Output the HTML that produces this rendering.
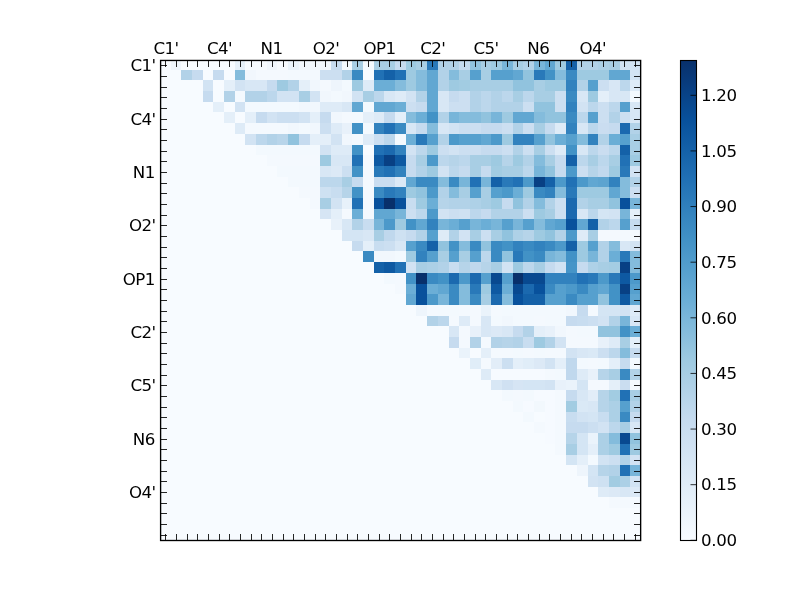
<!DOCTYPE html>
<html><head><meta charset="utf-8"><title>heatmap</title>
<style>
html,body{margin:0;padding:0;background:#fff;}
svg{display:block;}
text{font-family:"DejaVu Sans","Liberation Sans",sans-serif;font-size:16.67px;fill:#000;}
</style></head><body>
<svg width="800" height="600" viewBox="0 0 800 600">
<defs><linearGradient id="cb" x1="0" y1="1" x2="0" y2="0"><stop offset="0.0000" stop-color="rgb(247,251,255)"/><stop offset="0.0312" stop-color="rgb(241,247,253)"/><stop offset="0.0625" stop-color="rgb(234,243,251)"/><stop offset="0.0938" stop-color="rgb(228,239,249)"/><stop offset="0.1250" stop-color="rgb(222,235,247)"/><stop offset="0.1562" stop-color="rgb(216,231,245)"/><stop offset="0.1875" stop-color="rgb(210,227,243)"/><stop offset="0.2188" stop-color="rgb(204,223,241)"/><stop offset="0.2500" stop-color="rgb(198,219,239)"/><stop offset="0.2812" stop-color="rgb(188,215,236)"/><stop offset="0.3125" stop-color="rgb(178,210,232)"/><stop offset="0.3438" stop-color="rgb(168,206,228)"/><stop offset="0.3750" stop-color="rgb(158,202,225)"/><stop offset="0.4062" stop-color="rgb(145,195,222)"/><stop offset="0.4375" stop-color="rgb(132,188,220)"/><stop offset="0.4688" stop-color="rgb(120,181,217)"/><stop offset="0.5000" stop-color="rgb(107,174,214)"/><stop offset="0.5312" stop-color="rgb(97,167,210)"/><stop offset="0.5625" stop-color="rgb(86,160,206)"/><stop offset="0.5938" stop-color="rgb(76,153,202)"/><stop offset="0.6250" stop-color="rgb(66,146,198)"/><stop offset="0.6562" stop-color="rgb(58,138,194)"/><stop offset="0.6875" stop-color="rgb(50,130,190)"/><stop offset="0.7188" stop-color="rgb(41,121,185)"/><stop offset="0.7500" stop-color="rgb(33,113,181)"/><stop offset="0.7812" stop-color="rgb(27,105,175)"/><stop offset="0.8125" stop-color="rgb(20,97,168)"/><stop offset="0.8438" stop-color="rgb(14,89,162)"/><stop offset="0.8750" stop-color="rgb(8,81,156)"/><stop offset="0.9062" stop-color="rgb(8,73,144)"/><stop offset="0.9375" stop-color="rgb(8,64,132)"/><stop offset="0.9688" stop-color="rgb(8,56,119)"/><stop offset="1.0000" stop-color="rgb(8,48,107)"/></linearGradient></defs>
<rect x="0" y="0" width="800" height="600" fill="#fff"/>
<rect x="160" y="60" width="480" height="480" fill="rgb(247,251,255)"/>
<g shape-rendering="crispEdges">
<rect x="171" y="60" width="10" height="10" fill="#eef5fc"/><rect x="235" y="60" width="10" height="10" fill="#e6f0f9"/><rect x="267" y="60" width="10" height="10" fill="#f1f7fd"/><rect x="288" y="60" width="11" height="10" fill="#eaf3fb"/><rect x="299" y="60" width="32" height="10" fill="#f1f7fd"/><rect x="331" y="60" width="11" height="10" fill="#c6dbef"/><rect x="342" y="60" width="10" height="10" fill="#f3f9fe"/><rect x="352" y="60" width="11" height="10" fill="#a8cee4"/><rect x="363" y="60" width="11" height="10" fill="#f3f9fe"/><rect x="374" y="60" width="21" height="10" fill="#a8cee4"/><rect x="395" y="60" width="11" height="10" fill="#c6dbef"/><rect x="406" y="60" width="10" height="10" fill="#9ecae1"/><rect x="416" y="60" width="11" height="10" fill="#a8cee4"/><rect x="427" y="60" width="11" height="10" fill="#2979b9"/><rect x="438" y="60" width="21" height="10" fill="#b2d2e8"/><rect x="459" y="60" width="11" height="10" fill="#c6dbef"/><rect x="470" y="60" width="11" height="10" fill="#91c3de"/><rect x="481" y="60" width="10" height="10" fill="#a8cee4"/><rect x="491" y="60" width="11" height="10" fill="#9ecae1"/><rect x="502" y="60" width="11" height="10" fill="#78b5d9"/><rect x="513" y="60" width="10" height="10" fill="#a8cee4"/><rect x="523" y="60" width="11" height="10" fill="#b2d2e8"/><rect x="534" y="60" width="11" height="10" fill="#78b5d9"/><rect x="545" y="60" width="10" height="10" fill="#61a7d2"/><rect x="555" y="60" width="11" height="10" fill="#9ecae1"/><rect x="566" y="60" width="11" height="10" fill="#1461a8"/><rect x="577" y="60" width="21" height="10" fill="#b2d2e8"/><rect x="598" y="60" width="11" height="10" fill="#acd0e6"/><rect x="609" y="60" width="11" height="10" fill="#a8cee4"/><rect x="620" y="60" width="21" height="10" fill="#d2e3f3"/>
<rect x="181" y="70" width="11" height="10" fill="#b2d2e8"/><rect x="192" y="70" width="11" height="10" fill="#c6dbef"/><rect x="213" y="70" width="11" height="10" fill="#c6dbef"/><rect x="235" y="70" width="10" height="10" fill="#84bcdc"/><rect x="245" y="70" width="11" height="10" fill="#f1f7fd"/><rect x="256" y="70" width="32" height="10" fill="#f4f9fe"/><rect x="288" y="70" width="32" height="10" fill="#f3f9fe"/><rect x="320" y="70" width="22" height="10" fill="#ccdff1"/><rect x="342" y="70" width="10" height="10" fill="#b2d2e8"/><rect x="352" y="70" width="11" height="10" fill="#3a8ac2"/><rect x="374" y="70" width="10" height="10" fill="#2171b5"/><rect x="384" y="70" width="11" height="10" fill="#1461a8"/><rect x="395" y="70" width="11" height="10" fill="#2171b5"/><rect x="406" y="70" width="10" height="10" fill="#9ecae1"/><rect x="416" y="70" width="11" height="10" fill="#84bcdc"/><rect x="427" y="70" width="11" height="10" fill="#61a7d2"/><rect x="438" y="70" width="11" height="10" fill="#b2d2e8"/><rect x="449" y="70" width="10" height="10" fill="#84bcdc"/><rect x="459" y="70" width="11" height="10" fill="#a8cee4"/><rect x="470" y="70" width="11" height="10" fill="#56a0ce"/><rect x="481" y="70" width="10" height="10" fill="#a8cee4"/><rect x="491" y="70" width="22" height="10" fill="#56a0ce"/><rect x="513" y="70" width="10" height="10" fill="#61a7d2"/><rect x="523" y="70" width="11" height="10" fill="#91c3de"/><rect x="534" y="70" width="11" height="10" fill="#2979b9"/><rect x="545" y="70" width="10" height="10" fill="#4292c6"/><rect x="555" y="70" width="11" height="10" fill="#84bcdc"/><rect x="566" y="70" width="11" height="10" fill="#3a8ac2"/><rect x="577" y="70" width="32" height="10" fill="#9ecae1"/><rect x="609" y="70" width="21" height="10" fill="#61a7d2"/><rect x="630" y="70" width="11" height="10" fill="#d2e3f3"/>
<rect x="203" y="80" width="10" height="11" fill="#d2e3f3"/><rect x="224" y="80" width="11" height="11" fill="#e4eff9"/><rect x="235" y="80" width="10" height="11" fill="#d2e3f3"/><rect x="245" y="80" width="22" height="11" fill="#d8e7f5"/><rect x="267" y="80" width="10" height="11" fill="#c6dbef"/><rect x="277" y="80" width="11" height="11" fill="#9ecae1"/><rect x="288" y="80" width="11" height="11" fill="#b2d2e8"/><rect x="299" y="80" width="11" height="11" fill="#e4eff9"/><rect x="310" y="80" width="10" height="11" fill="#f1f7fd"/><rect x="320" y="80" width="11" height="11" fill="#f4f9fe"/><rect x="331" y="80" width="11" height="11" fill="#eef5fc"/><rect x="342" y="80" width="10" height="11" fill="#f3f9fe"/><rect x="352" y="80" width="11" height="11" fill="#9ecae1"/><rect x="363" y="80" width="11" height="11" fill="#deebf7"/><rect x="374" y="80" width="21" height="11" fill="#6baed6"/><rect x="395" y="80" width="11" height="11" fill="#84bcdc"/><rect x="406" y="80" width="10" height="11" fill="#9ecae1"/><rect x="416" y="80" width="11" height="11" fill="#84bcdc"/><rect x="427" y="80" width="11" height="11" fill="#61a7d2"/><rect x="438" y="80" width="11" height="11" fill="#b2d2e8"/><rect x="449" y="80" width="10" height="11" fill="#9ecae1"/><rect x="459" y="80" width="11" height="11" fill="#a2cce2"/><rect x="470" y="80" width="43" height="11" fill="#a8cee4"/><rect x="513" y="80" width="21" height="11" fill="#91c3de"/><rect x="534" y="80" width="11" height="11" fill="#a8cee4"/><rect x="545" y="80" width="21" height="11" fill="#9ecae1"/><rect x="566" y="80" width="11" height="11" fill="#3282be"/><rect x="577" y="80" width="11" height="11" fill="#b2d2e8"/><rect x="588" y="80" width="10" height="11" fill="#56a0ce"/><rect x="598" y="80" width="11" height="11" fill="#ccdff1"/><rect x="609" y="80" width="11" height="11" fill="#d8e7f5"/><rect x="620" y="80" width="10" height="11" fill="#bcd7ec"/><rect x="630" y="80" width="11" height="11" fill="#deebf7"/>
<rect x="203" y="91" width="10" height="11" fill="#c6dbef"/><rect x="224" y="91" width="11" height="11" fill="#b2d2e8"/><rect x="235" y="91" width="10" height="11" fill="#f4f9fe"/><rect x="245" y="91" width="22" height="11" fill="#b2d2e8"/><rect x="267" y="91" width="10" height="11" fill="#bcd7ec"/><rect x="277" y="91" width="22" height="11" fill="#d2e3f3"/><rect x="299" y="91" width="11" height="11" fill="#a8cee4"/><rect x="310" y="91" width="10" height="11" fill="#d2e3f3"/><rect x="320" y="91" width="11" height="11" fill="#f1f7fd"/><rect x="331" y="91" width="11" height="11" fill="#f3f9fe"/><rect x="342" y="91" width="10" height="11" fill="#f1f7fd"/><rect x="352" y="91" width="11" height="11" fill="#d2e3f3"/><rect x="363" y="91" width="11" height="11" fill="#a8cee4"/><rect x="374" y="91" width="10" height="11" fill="#bcd7ec"/><rect x="384" y="91" width="11" height="11" fill="#d8e7f5"/><rect x="395" y="91" width="11" height="11" fill="#deebf7"/><rect x="406" y="91" width="10" height="11" fill="#d2e3f3"/><rect x="416" y="91" width="11" height="11" fill="#b2d2e8"/><rect x="427" y="91" width="11" height="11" fill="#61a7d2"/><rect x="438" y="91" width="11" height="11" fill="#d8e7f5"/><rect x="449" y="91" width="10" height="11" fill="#c6dbef"/><rect x="459" y="91" width="11" height="11" fill="#ccdff1"/><rect x="470" y="91" width="11" height="11" fill="#b2d2e8"/><rect x="481" y="91" width="10" height="11" fill="#bcd7ec"/><rect x="491" y="91" width="11" height="11" fill="#b2d2e8"/><rect x="502" y="91" width="11" height="11" fill="#bcd7ec"/><rect x="513" y="91" width="10" height="11" fill="#a8cee4"/><rect x="523" y="91" width="11" height="11" fill="#bcd7ec"/><rect x="534" y="91" width="21" height="11" fill="#a8cee4"/><rect x="555" y="91" width="11" height="11" fill="#ccdff1"/><rect x="566" y="91" width="11" height="11" fill="#3a8ac2"/><rect x="577" y="91" width="11" height="11" fill="#d8e7f5"/><rect x="588" y="91" width="10" height="11" fill="#9ecae1"/><rect x="598" y="91" width="11" height="11" fill="#e4eff9"/><rect x="609" y="91" width="21" height="11" fill="#d8e7f5"/><rect x="630" y="91" width="11" height="11" fill="#f3f9fe"/>
<rect x="213" y="102" width="11" height="10" fill="#e4eff9"/><rect x="235" y="102" width="10" height="10" fill="#d2e3f3"/><rect x="245" y="102" width="54" height="10" fill="#f3f9fe"/><rect x="299" y="102" width="21" height="10" fill="#f1f7fd"/><rect x="320" y="102" width="22" height="10" fill="#deebf7"/><rect x="342" y="102" width="10" height="10" fill="#d8e7f5"/><rect x="352" y="102" width="11" height="10" fill="#61a7d2"/><rect x="363" y="102" width="11" height="10" fill="#f3f9fe"/><rect x="374" y="102" width="21" height="10" fill="#61a7d2"/><rect x="395" y="102" width="11" height="10" fill="#6baed6"/><rect x="406" y="102" width="10" height="10" fill="#ccdff1"/><rect x="416" y="102" width="11" height="10" fill="#c6dbef"/><rect x="427" y="102" width="11" height="10" fill="#61a7d2"/><rect x="438" y="102" width="11" height="10" fill="#d8e7f5"/><rect x="449" y="102" width="21" height="10" fill="#ccdff1"/><rect x="470" y="102" width="11" height="10" fill="#b2d2e8"/><rect x="481" y="102" width="10" height="10" fill="#bcd7ec"/><rect x="491" y="102" width="32" height="10" fill="#b2d2e8"/><rect x="523" y="102" width="11" height="10" fill="#ccdff1"/><rect x="534" y="102" width="21" height="10" fill="#91c3de"/><rect x="555" y="102" width="11" height="10" fill="#ccdff1"/><rect x="566" y="102" width="11" height="10" fill="#3282be"/><rect x="577" y="102" width="11" height="10" fill="#d2e3f3"/><rect x="588" y="102" width="10" height="10" fill="#bcd7ec"/><rect x="598" y="102" width="11" height="10" fill="#ccdff1"/><rect x="609" y="102" width="11" height="10" fill="#bcd7ec"/><rect x="620" y="102" width="10" height="10" fill="#56a0ce"/><rect x="630" y="102" width="11" height="10" fill="#d8e7f5"/>
<rect x="224" y="112" width="11" height="11" fill="#e4eff9"/><rect x="245" y="112" width="11" height="11" fill="#e4eff9"/><rect x="256" y="112" width="11" height="11" fill="#c6dbef"/><rect x="267" y="112" width="10" height="11" fill="#d2e3f3"/><rect x="277" y="112" width="22" height="11" fill="#ccdff1"/><rect x="299" y="112" width="11" height="11" fill="#d2e3f3"/><rect x="310" y="112" width="10" height="11" fill="#e4eff9"/><rect x="320" y="112" width="11" height="11" fill="#c6dbef"/><rect x="331" y="112" width="11" height="11" fill="#f1f7fd"/><rect x="342" y="112" width="10" height="11" fill="#f4f9fe"/><rect x="352" y="112" width="11" height="11" fill="#f3f9fe"/><rect x="363" y="112" width="11" height="11" fill="#e4eff9"/><rect x="374" y="112" width="10" height="11" fill="#deebf7"/><rect x="384" y="112" width="11" height="11" fill="#c6dbef"/><rect x="395" y="112" width="11" height="11" fill="#e4eff9"/><rect x="406" y="112" width="10" height="11" fill="#84bcdc"/><rect x="416" y="112" width="11" height="11" fill="#6baed6"/><rect x="427" y="112" width="11" height="11" fill="#4292c6"/><rect x="438" y="112" width="11" height="11" fill="#b2d2e8"/><rect x="449" y="112" width="10" height="11" fill="#78b5d9"/><rect x="459" y="112" width="22" height="11" fill="#84bcdc"/><rect x="481" y="112" width="10" height="11" fill="#91c3de"/><rect x="491" y="112" width="11" height="11" fill="#78b5d9"/><rect x="502" y="112" width="11" height="11" fill="#9ecae1"/><rect x="513" y="112" width="21" height="11" fill="#61a7d2"/><rect x="534" y="112" width="11" height="11" fill="#84bcdc"/><rect x="545" y="112" width="21" height="11" fill="#91c3de"/><rect x="566" y="112" width="11" height="11" fill="#3a8ac2"/><rect x="577" y="112" width="11" height="11" fill="#bcd7ec"/><rect x="588" y="112" width="10" height="11" fill="#56a0ce"/><rect x="598" y="112" width="11" height="11" fill="#ccdff1"/><rect x="609" y="112" width="11" height="11" fill="#b2d2e8"/><rect x="620" y="112" width="10" height="11" fill="#ccdff1"/><rect x="630" y="112" width="11" height="11" fill="#d8e7f5"/>
<rect x="235" y="123" width="10" height="11" fill="#deebf7"/><rect x="245" y="123" width="43" height="11" fill="#f4f9fe"/><rect x="288" y="123" width="11" height="11" fill="#f1f7fd"/><rect x="299" y="123" width="11" height="11" fill="#f3f9fe"/><rect x="310" y="123" width="10" height="11" fill="#f1f7fd"/><rect x="320" y="123" width="11" height="11" fill="#ccdff1"/><rect x="331" y="123" width="11" height="11" fill="#deebf7"/><rect x="342" y="123" width="10" height="11" fill="#e8f1fa"/><rect x="352" y="123" width="11" height="11" fill="#4292c6"/><rect x="363" y="123" width="11" height="11" fill="#f3f9fe"/><rect x="374" y="123" width="10" height="11" fill="#3282be"/><rect x="384" y="123" width="11" height="11" fill="#2171b5"/><rect x="395" y="123" width="11" height="11" fill="#3a8ac2"/><rect x="406" y="123" width="10" height="11" fill="#d8e7f5"/><rect x="416" y="123" width="11" height="11" fill="#c6dbef"/><rect x="427" y="123" width="11" height="11" fill="#84bcdc"/><rect x="438" y="123" width="11" height="11" fill="#d8e7f5"/><rect x="449" y="123" width="10" height="11" fill="#d2e3f3"/><rect x="459" y="123" width="22" height="11" fill="#ccdff1"/><rect x="481" y="123" width="21" height="11" fill="#c6dbef"/><rect x="502" y="123" width="11" height="11" fill="#ccdff1"/><rect x="513" y="123" width="10" height="11" fill="#b2d2e8"/><rect x="523" y="123" width="11" height="11" fill="#ccdff1"/><rect x="534" y="123" width="11" height="11" fill="#a8cee4"/><rect x="545" y="123" width="10" height="11" fill="#c6dbef"/><rect x="555" y="123" width="11" height="11" fill="#deebf7"/><rect x="566" y="123" width="11" height="11" fill="#3282be"/><rect x="577" y="123" width="11" height="11" fill="#d8e7f5"/><rect x="588" y="123" width="10" height="11" fill="#bcd7ec"/><rect x="598" y="123" width="11" height="11" fill="#caddf0"/><rect x="609" y="123" width="11" height="11" fill="#c6dbef"/><rect x="620" y="123" width="10" height="11" fill="#1b69af"/><rect x="630" y="123" width="11" height="11" fill="#b2d2e8"/>
<rect x="245" y="134" width="11" height="11" fill="#d2e3f3"/><rect x="256" y="134" width="11" height="11" fill="#bcd7ec"/><rect x="267" y="134" width="10" height="11" fill="#b2d2e8"/><rect x="277" y="134" width="11" height="11" fill="#b8d5ea"/><rect x="288" y="134" width="11" height="11" fill="#91c3de"/><rect x="299" y="134" width="11" height="11" fill="#c6dbef"/><rect x="310" y="134" width="21" height="11" fill="#e4eff9"/><rect x="331" y="134" width="11" height="11" fill="#d2e3f3"/><rect x="342" y="134" width="10" height="11" fill="#f1f7fd"/><rect x="352" y="134" width="11" height="11" fill="#f3f9fe"/><rect x="363" y="134" width="11" height="11" fill="#deebf7"/><rect x="374" y="134" width="10" height="11" fill="#ccdff1"/><rect x="384" y="134" width="11" height="11" fill="#bcd7ec"/><rect x="395" y="134" width="11" height="11" fill="#f3f9fe"/><rect x="406" y="134" width="10" height="11" fill="#6baed6"/><rect x="416" y="134" width="11" height="11" fill="#2979b9"/><rect x="427" y="134" width="11" height="11" fill="#56a0ce"/><rect x="438" y="134" width="11" height="11" fill="#b2d2e8"/><rect x="449" y="134" width="10" height="11" fill="#4c99ca"/><rect x="459" y="134" width="22" height="11" fill="#56a0ce"/><rect x="481" y="134" width="10" height="11" fill="#61a7d2"/><rect x="491" y="134" width="11" height="11" fill="#4c99ca"/><rect x="502" y="134" width="11" height="11" fill="#9ecae1"/><rect x="513" y="134" width="21" height="11" fill="#3282be"/><rect x="534" y="134" width="11" height="11" fill="#56a0ce"/><rect x="545" y="134" width="10" height="11" fill="#91c3de"/><rect x="555" y="134" width="11" height="11" fill="#6baed6"/><rect x="566" y="134" width="11" height="11" fill="#56a0ce"/><rect x="577" y="134" width="11" height="11" fill="#84bcdc"/><rect x="588" y="134" width="10" height="11" fill="#3282be"/><rect x="598" y="134" width="11" height="11" fill="#b2d2e8"/><rect x="609" y="134" width="11" height="11" fill="#6baed6"/><rect x="620" y="134" width="10" height="11" fill="#56a0ce"/><rect x="630" y="134" width="11" height="11" fill="#a8cee4"/>
<rect x="256" y="145" width="64" height="10" fill="#f3f9fe"/><rect x="320" y="145" width="11" height="10" fill="#d2e3f3"/><rect x="331" y="145" width="21" height="10" fill="#deebf7"/><rect x="352" y="145" width="11" height="10" fill="#4292c6"/><rect x="374" y="145" width="10" height="10" fill="#2171b5"/><rect x="384" y="145" width="11" height="10" fill="#1b69af"/><rect x="395" y="145" width="11" height="10" fill="#3282be"/><rect x="406" y="145" width="10" height="10" fill="#d2e3f3"/><rect x="416" y="145" width="11" height="10" fill="#bcd7ec"/><rect x="427" y="145" width="11" height="10" fill="#9ecae1"/><rect x="438" y="145" width="11" height="10" fill="#ccdff1"/><rect x="449" y="145" width="10" height="10" fill="#d2e3f3"/><rect x="459" y="145" width="22" height="10" fill="#ccdff1"/><rect x="481" y="145" width="21" height="10" fill="#c6dbef"/><rect x="502" y="145" width="11" height="10" fill="#ccdff1"/><rect x="513" y="145" width="10" height="10" fill="#b2d2e8"/><rect x="523" y="145" width="11" height="10" fill="#ccdff1"/><rect x="534" y="145" width="11" height="10" fill="#a8cee4"/><rect x="545" y="145" width="10" height="10" fill="#ccdff1"/><rect x="555" y="145" width="11" height="10" fill="#deebf7"/><rect x="566" y="145" width="11" height="10" fill="#4292c6"/><rect x="577" y="145" width="11" height="10" fill="#d8e7f5"/><rect x="588" y="145" width="10" height="10" fill="#bcd7ec"/><rect x="598" y="145" width="11" height="10" fill="#caddf0"/><rect x="609" y="145" width="11" height="10" fill="#bcd7ec"/><rect x="620" y="145" width="10" height="10" fill="#1461a8"/><rect x="630" y="145" width="11" height="10" fill="#a8cee4"/>
<rect x="267" y="155" width="53" height="11" fill="#f4f9fe"/><rect x="320" y="155" width="11" height="11" fill="#9ecae1"/><rect x="331" y="155" width="21" height="11" fill="#d8e7f5"/><rect x="352" y="155" width="11" height="11" fill="#2171b5"/><rect x="363" y="155" width="11" height="11" fill="#f4f9fe"/><rect x="374" y="155" width="10" height="11" fill="#0e59a2"/><rect x="384" y="155" width="11" height="11" fill="#084084"/><rect x="395" y="155" width="11" height="11" fill="#0e59a2"/><rect x="406" y="155" width="10" height="11" fill="#c6dbef"/><rect x="416" y="155" width="11" height="11" fill="#a8cee4"/><rect x="427" y="155" width="11" height="11" fill="#4c99ca"/><rect x="438" y="155" width="11" height="11" fill="#bcd7ec"/><rect x="449" y="155" width="10" height="11" fill="#b6d4e9"/><rect x="459" y="155" width="11" height="11" fill="#bcd7ec"/><rect x="470" y="155" width="21" height="11" fill="#a8cee4"/><rect x="491" y="155" width="11" height="11" fill="#9ecae1"/><rect x="502" y="155" width="11" height="11" fill="#b6d4e9"/><rect x="513" y="155" width="10" height="11" fill="#9ecae1"/><rect x="523" y="155" width="11" height="11" fill="#b2d2e8"/><rect x="534" y="155" width="11" height="11" fill="#84bcdc"/><rect x="545" y="155" width="10" height="11" fill="#a8cee4"/><rect x="555" y="155" width="11" height="11" fill="#c6dbef"/><rect x="566" y="155" width="11" height="11" fill="#1461a8"/><rect x="577" y="155" width="11" height="11" fill="#bcd7ec"/><rect x="588" y="155" width="10" height="11" fill="#a8cee4"/><rect x="598" y="155" width="11" height="11" fill="#bcd7ec"/><rect x="609" y="155" width="11" height="11" fill="#a8cee4"/><rect x="620" y="155" width="10" height="11" fill="#2171b5"/><rect x="630" y="155" width="11" height="11" fill="#9ecae1"/>
<rect x="277" y="166" width="43" height="11" fill="#f3f9fe"/><rect x="320" y="166" width="11" height="11" fill="#d8e7f5"/><rect x="331" y="166" width="11" height="11" fill="#dce9f6"/><rect x="342" y="166" width="10" height="11" fill="#ccdff1"/><rect x="352" y="166" width="11" height="11" fill="#4292c6"/><rect x="363" y="166" width="11" height="11" fill="#f4f9fe"/><rect x="374" y="166" width="10" height="11" fill="#2979b9"/><rect x="384" y="166" width="11" height="11" fill="#2171b5"/><rect x="395" y="166" width="11" height="11" fill="#3282be"/><rect x="406" y="166" width="10" height="11" fill="#c6dbef"/><rect x="416" y="166" width="11" height="11" fill="#b2d2e8"/><rect x="427" y="166" width="11" height="11" fill="#9ecae1"/><rect x="438" y="166" width="11" height="11" fill="#d2e3f3"/><rect x="449" y="166" width="10" height="11" fill="#bcd7ec"/><rect x="459" y="166" width="11" height="11" fill="#c6dbef"/><rect x="470" y="166" width="11" height="11" fill="#a8cee4"/><rect x="481" y="166" width="10" height="11" fill="#c6dbef"/><rect x="491" y="166" width="11" height="11" fill="#a2cce2"/><rect x="502" y="166" width="21" height="11" fill="#a8cee4"/><rect x="523" y="166" width="11" height="11" fill="#bcd7ec"/><rect x="534" y="166" width="11" height="11" fill="#78b5d9"/><rect x="545" y="166" width="10" height="11" fill="#91c3de"/><rect x="555" y="166" width="11" height="11" fill="#c6dbef"/><rect x="566" y="166" width="11" height="11" fill="#4c99ca"/><rect x="577" y="166" width="11" height="11" fill="#ccdff1"/><rect x="588" y="166" width="10" height="11" fill="#b6d4e9"/><rect x="598" y="166" width="11" height="11" fill="#c2d9ee"/><rect x="609" y="166" width="11" height="11" fill="#9ecae1"/><rect x="620" y="166" width="10" height="11" fill="#2979b9"/><rect x="630" y="166" width="11" height="11" fill="#d2e3f3"/>
<rect x="288" y="177" width="32" height="10" fill="#f3f9fe"/><rect x="320" y="177" width="22" height="10" fill="#bcd7ec"/><rect x="342" y="177" width="10" height="10" fill="#a8cee4"/><rect x="352" y="177" width="11" height="10" fill="#c6dbef"/><rect x="363" y="177" width="11" height="10" fill="#f4f9fe"/><rect x="374" y="177" width="21" height="10" fill="#caddf0"/><rect x="395" y="177" width="11" height="10" fill="#dce9f6"/><rect x="406" y="177" width="10" height="10" fill="#61a7d2"/><rect x="416" y="177" width="22" height="10" fill="#3a8ac2"/><rect x="438" y="177" width="11" height="10" fill="#84bcdc"/><rect x="449" y="177" width="10" height="10" fill="#3a8ac2"/><rect x="459" y="177" width="11" height="10" fill="#78b5d9"/><rect x="470" y="177" width="11" height="10" fill="#2171b5"/><rect x="481" y="177" width="10" height="10" fill="#78b5d9"/><rect x="491" y="177" width="11" height="10" fill="#1461a8"/><rect x="502" y="177" width="11" height="10" fill="#2979b9"/><rect x="513" y="177" width="10" height="10" fill="#2171b5"/><rect x="523" y="177" width="11" height="10" fill="#4c99ca"/><rect x="534" y="177" width="11" height="10" fill="#084084"/><rect x="545" y="177" width="10" height="10" fill="#1461a8"/><rect x="555" y="177" width="11" height="10" fill="#4c99ca"/><rect x="566" y="177" width="11" height="10" fill="#2171b5"/><rect x="577" y="177" width="11" height="10" fill="#4c99ca"/><rect x="588" y="177" width="10" height="10" fill="#61a7d2"/><rect x="598" y="177" width="11" height="10" fill="#5da4d0"/><rect x="609" y="177" width="11" height="10" fill="#3282be"/><rect x="620" y="177" width="10" height="10" fill="#84bcdc"/><rect x="630" y="177" width="11" height="10" fill="#b2d2e8"/>
<rect x="299" y="187" width="21" height="11" fill="#f4f9fe"/><rect x="320" y="187" width="11" height="11" fill="#cee1f2"/><rect x="331" y="187" width="11" height="11" fill="#c8ddf0"/><rect x="342" y="187" width="10" height="11" fill="#b6d4e9"/><rect x="352" y="187" width="11" height="11" fill="#4292c6"/><rect x="363" y="187" width="11" height="11" fill="#f4f9fe"/><rect x="374" y="187" width="10" height="11" fill="#3a8ac2"/><rect x="384" y="187" width="11" height="11" fill="#2979b9"/><rect x="395" y="187" width="11" height="11" fill="#3282be"/><rect x="406" y="187" width="10" height="11" fill="#9ecae1"/><rect x="416" y="187" width="11" height="11" fill="#91c3de"/><rect x="427" y="187" width="11" height="11" fill="#4c99ca"/><rect x="438" y="187" width="11" height="11" fill="#b2d2e8"/><rect x="449" y="187" width="10" height="11" fill="#84bcdc"/><rect x="459" y="187" width="11" height="11" fill="#a8cee4"/><rect x="470" y="187" width="11" height="11" fill="#56a0ce"/><rect x="481" y="187" width="10" height="11" fill="#a8cee4"/><rect x="491" y="187" width="11" height="11" fill="#56a0ce"/><rect x="502" y="187" width="11" height="11" fill="#4c99ca"/><rect x="513" y="187" width="10" height="11" fill="#6baed6"/><rect x="523" y="187" width="11" height="11" fill="#9ecae1"/><rect x="534" y="187" width="11" height="11" fill="#3a8ac2"/><rect x="545" y="187" width="10" height="11" fill="#3282be"/><rect x="555" y="187" width="11" height="11" fill="#84bcdc"/><rect x="566" y="187" width="11" height="11" fill="#2979b9"/><rect x="577" y="187" width="32" height="11" fill="#9ecae1"/><rect x="609" y="187" width="11" height="11" fill="#61a7d2"/><rect x="620" y="187" width="10" height="11" fill="#84bcdc"/><rect x="630" y="187" width="11" height="11" fill="#ccdff1"/>
<rect x="310" y="198" width="10" height="11" fill="#f4f9fe"/><rect x="320" y="198" width="11" height="11" fill="#a8cee4"/><rect x="331" y="198" width="11" height="11" fill="#d2e3f3"/><rect x="342" y="198" width="10" height="11" fill="#e7f1fa"/><rect x="352" y="198" width="11" height="11" fill="#2171b5"/><rect x="363" y="198" width="11" height="11" fill="#f4f9fe"/><rect x="374" y="198" width="10" height="11" fill="#08519c"/><rect x="384" y="198" width="11" height="11" fill="#08306b"/><rect x="395" y="198" width="11" height="11" fill="#08519c"/><rect x="406" y="198" width="10" height="11" fill="#c8ddf0"/><rect x="416" y="198" width="11" height="11" fill="#9ecae1"/><rect x="427" y="198" width="11" height="11" fill="#6baed6"/><rect x="438" y="198" width="11" height="11" fill="#b6d4e9"/><rect x="449" y="198" width="21" height="11" fill="#b2d2e8"/><rect x="470" y="198" width="11" height="11" fill="#aed1e7"/><rect x="481" y="198" width="10" height="11" fill="#a8cee4"/><rect x="491" y="198" width="11" height="11" fill="#9ecae1"/><rect x="502" y="198" width="11" height="11" fill="#c6dbef"/><rect x="513" y="198" width="10" height="11" fill="#91c3de"/><rect x="523" y="198" width="11" height="11" fill="#b2d2e8"/><rect x="534" y="198" width="11" height="11" fill="#84bcdc"/><rect x="545" y="198" width="10" height="11" fill="#b2d2e8"/><rect x="555" y="198" width="11" height="11" fill="#ccdff1"/><rect x="566" y="198" width="11" height="11" fill="#1b69af"/><rect x="577" y="198" width="11" height="11" fill="#b2d2e8"/><rect x="588" y="198" width="21" height="11" fill="#a8cee4"/><rect x="609" y="198" width="11" height="11" fill="#91c3de"/><rect x="620" y="198" width="10" height="11" fill="#08519c"/><rect x="630" y="198" width="11" height="11" fill="#78b5d9"/>
<rect x="320" y="209" width="11" height="10" fill="#d6e5f4"/><rect x="331" y="209" width="11" height="10" fill="#e4eff9"/><rect x="342" y="209" width="10" height="10" fill="#f4f9fe"/><rect x="352" y="209" width="11" height="10" fill="#6baed6"/><rect x="363" y="209" width="11" height="10" fill="#f4f9fe"/><rect x="374" y="209" width="21" height="10" fill="#61a7d2"/><rect x="395" y="209" width="11" height="10" fill="#78b5d9"/><rect x="406" y="209" width="10" height="10" fill="#ccdff1"/><rect x="416" y="209" width="11" height="10" fill="#bcd7ec"/><rect x="427" y="209" width="11" height="10" fill="#4c99ca"/><rect x="438" y="209" width="11" height="10" fill="#d2e3f3"/><rect x="449" y="209" width="10" height="10" fill="#ccdff1"/><rect x="459" y="209" width="11" height="10" fill="#cee1f2"/><rect x="470" y="209" width="11" height="10" fill="#bcd7ec"/><rect x="481" y="209" width="10" height="10" fill="#c6dbef"/><rect x="491" y="209" width="32" height="10" fill="#b2d2e8"/><rect x="523" y="209" width="11" height="10" fill="#ccdff1"/><rect x="534" y="209" width="11" height="10" fill="#9ecae1"/><rect x="545" y="209" width="10" height="10" fill="#a8cee4"/><rect x="555" y="209" width="11" height="10" fill="#ccdff1"/><rect x="566" y="209" width="11" height="10" fill="#1b69af"/><rect x="577" y="209" width="11" height="10" fill="#d8e7f5"/><rect x="588" y="209" width="10" height="10" fill="#bcd7ec"/><rect x="598" y="209" width="11" height="10" fill="#d4e5f4"/><rect x="609" y="209" width="11" height="10" fill="#d2e3f3"/><rect x="620" y="209" width="10" height="10" fill="#78b5d9"/><rect x="630" y="209" width="11" height="10" fill="#e4eff9"/>
<rect x="331" y="219" width="11" height="11" fill="#e8f1fa"/><rect x="342" y="219" width="10" height="11" fill="#d8e7f5"/><rect x="352" y="219" width="11" height="11" fill="#b2d2e8"/><rect x="363" y="219" width="11" height="11" fill="#c8ddf0"/><rect x="374" y="219" width="10" height="11" fill="#78b5d9"/><rect x="384" y="219" width="11" height="11" fill="#4c99ca"/><rect x="395" y="219" width="11" height="11" fill="#9ecae1"/><rect x="406" y="219" width="10" height="11" fill="#4292c6"/><rect x="416" y="219" width="11" height="11" fill="#61a7d2"/><rect x="427" y="219" width="11" height="11" fill="#3282be"/><rect x="438" y="219" width="11" height="11" fill="#78b5d9"/><rect x="449" y="219" width="10" height="11" fill="#6baed6"/><rect x="459" y="219" width="11" height="11" fill="#56a0ce"/><rect x="470" y="219" width="11" height="11" fill="#78b5d9"/><rect x="481" y="219" width="10" height="11" fill="#6baed6"/><rect x="491" y="219" width="11" height="11" fill="#78b5d9"/><rect x="502" y="219" width="11" height="11" fill="#56a0ce"/><rect x="513" y="219" width="10" height="11" fill="#78b5d9"/><rect x="523" y="219" width="11" height="11" fill="#56a0ce"/><rect x="534" y="219" width="11" height="11" fill="#84bcdc"/><rect x="545" y="219" width="10" height="11" fill="#61a7d2"/><rect x="555" y="219" width="11" height="11" fill="#56a0ce"/><rect x="566" y="219" width="11" height="11" fill="#08519c"/><rect x="577" y="219" width="11" height="11" fill="#61a7d2"/><rect x="588" y="219" width="10" height="11" fill="#1461a8"/><rect x="598" y="219" width="11" height="11" fill="#b2d2e8"/><rect x="609" y="219" width="11" height="11" fill="#bcd7ec"/><rect x="620" y="219" width="10" height="11" fill="#56a0ce"/><rect x="630" y="219" width="11" height="11" fill="#c6dbef"/>
<rect x="342" y="230" width="21" height="11" fill="#d4e5f4"/><rect x="363" y="230" width="11" height="11" fill="#d8e7f5"/><rect x="374" y="230" width="10" height="11" fill="#a8cee4"/><rect x="384" y="230" width="11" height="11" fill="#c0d8ed"/><rect x="395" y="230" width="11" height="11" fill="#cee1f2"/><rect x="406" y="230" width="10" height="11" fill="#c6dbef"/><rect x="416" y="230" width="11" height="11" fill="#b2d2e8"/><rect x="427" y="230" width="11" height="11" fill="#56a0ce"/><rect x="438" y="230" width="11" height="11" fill="#deebf7"/><rect x="449" y="230" width="10" height="11" fill="#b2d2e8"/><rect x="459" y="230" width="11" height="11" fill="#d2e3f3"/><rect x="470" y="230" width="11" height="11" fill="#a8cee4"/><rect x="481" y="230" width="10" height="11" fill="#ccdff1"/><rect x="491" y="230" width="11" height="11" fill="#a8cee4"/><rect x="502" y="230" width="11" height="11" fill="#91c3de"/><rect x="513" y="230" width="10" height="11" fill="#aed1e7"/><rect x="523" y="230" width="11" height="11" fill="#b6d4e9"/><rect x="534" y="230" width="11" height="11" fill="#9ecae1"/><rect x="545" y="230" width="10" height="11" fill="#91c3de"/><rect x="555" y="230" width="11" height="11" fill="#b2d2e8"/><rect x="566" y="230" width="11" height="11" fill="#4c99ca"/><rect x="577" y="230" width="11" height="11" fill="#deebf7"/><rect x="588" y="230" width="10" height="11" fill="#a8cee4"/><rect x="598" y="230" width="22" height="11" fill="#f4f9fe"/><rect x="620" y="230" width="21" height="11" fill="#f3f9fe"/>
<rect x="352" y="241" width="11" height="10" fill="#c6dbef"/><rect x="363" y="241" width="11" height="10" fill="#e4eff9"/><rect x="374" y="241" width="10" height="10" fill="#c8ddf0"/><rect x="384" y="241" width="11" height="10" fill="#ccdff1"/><rect x="395" y="241" width="11" height="10" fill="#d8e7f5"/><rect x="406" y="241" width="10" height="10" fill="#56a0ce"/><rect x="416" y="241" width="11" height="10" fill="#3a8ac2"/><rect x="427" y="241" width="11" height="10" fill="#1461a8"/><rect x="438" y="241" width="11" height="10" fill="#91c3de"/><rect x="449" y="241" width="10" height="10" fill="#4292c6"/><rect x="459" y="241" width="11" height="10" fill="#84bcdc"/><rect x="470" y="241" width="11" height="10" fill="#3a8ac2"/><rect x="481" y="241" width="10" height="10" fill="#91c3de"/><rect x="491" y="241" width="11" height="10" fill="#3a8ac2"/><rect x="502" y="241" width="11" height="10" fill="#4292c6"/><rect x="513" y="241" width="10" height="10" fill="#3282be"/><rect x="523" y="241" width="11" height="10" fill="#3a8ac2"/><rect x="534" y="241" width="11" height="10" fill="#3282be"/><rect x="545" y="241" width="10" height="10" fill="#3a8ac2"/><rect x="555" y="241" width="11" height="10" fill="#4c99ca"/><rect x="566" y="241" width="11" height="10" fill="#1461a8"/><rect x="577" y="241" width="11" height="10" fill="#9ecae1"/><rect x="588" y="241" width="10" height="10" fill="#56a0ce"/><rect x="598" y="241" width="11" height="10" fill="#b2d2e8"/><rect x="609" y="241" width="11" height="10" fill="#84bcdc"/><rect x="620" y="241" width="10" height="10" fill="#d8e7f5"/><rect x="630" y="241" width="11" height="10" fill="#d2e3f3"/>
<rect x="363" y="251" width="11" height="11" fill="#3a8ac2"/><rect x="374" y="251" width="21" height="11" fill="#f1f7fd"/><rect x="395" y="251" width="11" height="11" fill="#f3f9fe"/><rect x="406" y="251" width="10" height="11" fill="#9ecae1"/><rect x="416" y="251" width="11" height="11" fill="#3282be"/><rect x="427" y="251" width="11" height="11" fill="#56a0ce"/><rect x="438" y="251" width="11" height="11" fill="#a8cee4"/><rect x="449" y="251" width="10" height="11" fill="#56a0ce"/><rect x="459" y="251" width="11" height="11" fill="#a8cee4"/><rect x="470" y="251" width="11" height="11" fill="#56a0ce"/><rect x="481" y="251" width="10" height="11" fill="#bcd7ec"/><rect x="491" y="251" width="11" height="11" fill="#3a8ac2"/><rect x="502" y="251" width="11" height="11" fill="#91c3de"/><rect x="513" y="251" width="10" height="11" fill="#2979b9"/><rect x="523" y="251" width="11" height="11" fill="#4292c6"/><rect x="534" y="251" width="11" height="11" fill="#3a8ac2"/><rect x="545" y="251" width="10" height="11" fill="#78b5d9"/><rect x="555" y="251" width="11" height="11" fill="#84bcdc"/><rect x="566" y="251" width="11" height="11" fill="#4292c6"/><rect x="577" y="251" width="11" height="11" fill="#9ecae1"/><rect x="588" y="251" width="10" height="11" fill="#78b5d9"/><rect x="598" y="251" width="11" height="11" fill="#b2d2e8"/><rect x="609" y="251" width="11" height="11" fill="#6baed6"/><rect x="620" y="251" width="10" height="11" fill="#2979b9"/><rect x="630" y="251" width="11" height="11" fill="#84bcdc"/>
<rect x="374" y="262" width="10" height="11" fill="#1461a8"/><rect x="384" y="262" width="11" height="11" fill="#0e59a2"/><rect x="395" y="262" width="11" height="11" fill="#2171b5"/><rect x="406" y="262" width="10" height="11" fill="#d2e3f3"/><rect x="416" y="262" width="11" height="11" fill="#a8cee4"/><rect x="427" y="262" width="11" height="11" fill="#acd0e6"/><rect x="438" y="262" width="11" height="11" fill="#b2d2e8"/><rect x="449" y="262" width="10" height="11" fill="#c8ddf0"/><rect x="459" y="262" width="11" height="11" fill="#b6d4e9"/><rect x="470" y="262" width="11" height="11" fill="#c0d8ed"/><rect x="481" y="262" width="10" height="11" fill="#b6d4e9"/><rect x="491" y="262" width="11" height="11" fill="#a8cee4"/><rect x="502" y="262" width="11" height="11" fill="#d2e3f3"/><rect x="513" y="262" width="10" height="11" fill="#9ecae1"/><rect x="523" y="262" width="11" height="11" fill="#bcd7ec"/><rect x="534" y="262" width="11" height="11" fill="#a8cee4"/><rect x="545" y="262" width="10" height="11" fill="#c6dbef"/><rect x="555" y="262" width="11" height="11" fill="#d2e3f3"/><rect x="566" y="262" width="11" height="11" fill="#4695c8"/><rect x="577" y="262" width="11" height="11" fill="#c6dbef"/><rect x="588" y="262" width="10" height="11" fill="#aed1e7"/><rect x="598" y="262" width="11" height="11" fill="#a8cee4"/><rect x="609" y="262" width="11" height="11" fill="#a4cde3"/><rect x="620" y="262" width="10" height="11" fill="#084084"/><rect x="630" y="262" width="11" height="11" fill="#84bcdc"/>
<rect x="384" y="273" width="11" height="11" fill="#f3f9fe"/><rect x="395" y="273" width="11" height="11" fill="#f4f9fe"/><rect x="406" y="273" width="10" height="11" fill="#4292c6"/><rect x="416" y="273" width="11" height="11" fill="#08306b"/><rect x="427" y="273" width="11" height="11" fill="#3a8ac2"/><rect x="438" y="273" width="11" height="11" fill="#4292c6"/><rect x="449" y="273" width="10" height="11" fill="#1b69af"/><rect x="459" y="273" width="11" height="11" fill="#4c99ca"/><rect x="470" y="273" width="11" height="11" fill="#1b69af"/><rect x="481" y="273" width="10" height="11" fill="#56a0ce"/><rect x="491" y="273" width="11" height="11" fill="#084990"/><rect x="502" y="273" width="11" height="11" fill="#56a0ce"/><rect x="513" y="273" width="10" height="11" fill="#08306b"/><rect x="523" y="273" width="22" height="11" fill="#084990"/><rect x="545" y="273" width="32" height="11" fill="#3282be"/><rect x="577" y="273" width="11" height="11" fill="#2171b5"/><rect x="588" y="273" width="10" height="11" fill="#2979b9"/><rect x="598" y="273" width="11" height="11" fill="#4c99ca"/><rect x="609" y="273" width="11" height="11" fill="#2979b9"/><rect x="620" y="273" width="10" height="11" fill="#0e59a2"/><rect x="630" y="273" width="11" height="11" fill="#4c99ca"/>
<rect x="395" y="284" width="11" height="10" fill="#f4f9fe"/><rect x="406" y="284" width="10" height="10" fill="#6baed6"/><rect x="416" y="284" width="11" height="10" fill="#08519c"/><rect x="427" y="284" width="11" height="10" fill="#6baed6"/><rect x="438" y="284" width="11" height="10" fill="#61a7d2"/><rect x="449" y="284" width="10" height="10" fill="#3a8ac2"/><rect x="459" y="284" width="11" height="10" fill="#84bcdc"/><rect x="470" y="284" width="11" height="10" fill="#2979b9"/><rect x="481" y="284" width="10" height="10" fill="#9ecae1"/><rect x="491" y="284" width="11" height="10" fill="#0e59a2"/><rect x="502" y="284" width="11" height="10" fill="#6baed6"/><rect x="513" y="284" width="10" height="10" fill="#084990"/><rect x="523" y="284" width="11" height="10" fill="#1b69af"/><rect x="534" y="284" width="11" height="10" fill="#08519c"/><rect x="545" y="284" width="10" height="10" fill="#3a8ac2"/><rect x="555" y="284" width="11" height="10" fill="#56a0ce"/><rect x="566" y="284" width="11" height="10" fill="#4c99ca"/><rect x="577" y="284" width="11" height="10" fill="#3a8ac2"/><rect x="588" y="284" width="10" height="10" fill="#56a0ce"/><rect x="598" y="284" width="11" height="10" fill="#61a7d2"/><rect x="609" y="284" width="11" height="10" fill="#4292c6"/><rect x="620" y="284" width="10" height="10" fill="#084084"/><rect x="630" y="284" width="11" height="10" fill="#56a0ce"/>
<rect x="406" y="294" width="10" height="11" fill="#61a7d2"/><rect x="416" y="294" width="11" height="11" fill="#08519c"/><rect x="427" y="294" width="11" height="11" fill="#4c99ca"/><rect x="438" y="294" width="11" height="11" fill="#78b5d9"/><rect x="449" y="294" width="10" height="11" fill="#3a8ac2"/><rect x="459" y="294" width="11" height="11" fill="#84bcdc"/><rect x="470" y="294" width="11" height="11" fill="#3a8ac2"/><rect x="481" y="294" width="10" height="11" fill="#a8cee4"/><rect x="491" y="294" width="11" height="11" fill="#1b69af"/><rect x="502" y="294" width="11" height="11" fill="#84bcdc"/><rect x="513" y="294" width="10" height="11" fill="#08519c"/><rect x="523" y="294" width="22" height="11" fill="#1461a8"/><rect x="545" y="294" width="21" height="11" fill="#56a0ce"/><rect x="566" y="294" width="11" height="11" fill="#3a8ac2"/><rect x="577" y="294" width="21" height="11" fill="#56a0ce"/><rect x="598" y="294" width="11" height="11" fill="#91c3de"/><rect x="609" y="294" width="11" height="11" fill="#4292c6"/><rect x="620" y="294" width="10" height="11" fill="#0e59a2"/><rect x="630" y="294" width="11" height="11" fill="#61a7d2"/>
<rect x="416" y="305" width="11" height="11" fill="#eef5fc"/><rect x="427" y="305" width="11" height="11" fill="#f4f9fe"/><rect x="438" y="305" width="21" height="11" fill="#f3f9fe"/><rect x="459" y="305" width="22" height="11" fill="#f4f9fe"/><rect x="481" y="305" width="10" height="11" fill="#eaf3fb"/><rect x="491" y="305" width="11" height="11" fill="#f4f9fe"/><rect x="502" y="305" width="64" height="11" fill="#f3f9fe"/><rect x="566" y="305" width="11" height="11" fill="#f1f7fd"/><rect x="577" y="305" width="11" height="11" fill="#c6dbef"/><rect x="588" y="305" width="10" height="11" fill="#f4f9fe"/><rect x="598" y="305" width="22" height="11" fill="#d4e5f4"/><rect x="620" y="305" width="10" height="11" fill="#d2e3f3"/><rect x="630" y="305" width="11" height="11" fill="#deebf7"/>
<rect x="427" y="316" width="11" height="10" fill="#b2d2e8"/><rect x="438" y="316" width="11" height="10" fill="#bcd7ec"/><rect x="449" y="316" width="10" height="10" fill="#f4f9fe"/><rect x="459" y="316" width="11" height="10" fill="#deebf7"/><rect x="470" y="316" width="11" height="10" fill="#f4f9fe"/><rect x="481" y="316" width="10" height="10" fill="#d8e7f5"/><rect x="491" y="316" width="11" height="10" fill="#f3f9fe"/><rect x="502" y="316" width="11" height="10" fill="#f1f7fd"/><rect x="513" y="316" width="21" height="10" fill="#f3f9fe"/><rect x="534" y="316" width="11" height="10" fill="#f4f9fe"/><rect x="545" y="316" width="21" height="10" fill="#f3f9fe"/><rect x="566" y="316" width="11" height="10" fill="#c6dbef"/><rect x="577" y="316" width="11" height="10" fill="#c8ddf0"/><rect x="588" y="316" width="10" height="10" fill="#ccdff1"/><rect x="598" y="316" width="11" height="10" fill="#d2e3f3"/><rect x="609" y="316" width="11" height="10" fill="#b2d2e8"/><rect x="620" y="316" width="10" height="10" fill="#78b5d9"/><rect x="630" y="316" width="11" height="10" fill="#d8e7f5"/>
<rect x="449" y="326" width="10" height="11" fill="#d8e7f5"/><rect x="459" y="326" width="11" height="11" fill="#f4f9fe"/><rect x="470" y="326" width="11" height="11" fill="#e8f1fa"/><rect x="481" y="326" width="10" height="11" fill="#d8e7f5"/><rect x="491" y="326" width="11" height="11" fill="#dce9f6"/><rect x="502" y="326" width="11" height="11" fill="#d8e7f5"/><rect x="513" y="326" width="10" height="11" fill="#c6dbef"/><rect x="523" y="326" width="11" height="11" fill="#b2d2e8"/><rect x="534" y="326" width="11" height="11" fill="#e4eff9"/><rect x="545" y="326" width="10" height="11" fill="#e8f1fa"/><rect x="555" y="326" width="11" height="11" fill="#f1f7fd"/><rect x="566" y="326" width="11" height="11" fill="#f4f9fe"/><rect x="577" y="326" width="21" height="11" fill="#f3f9fe"/><rect x="598" y="326" width="22" height="11" fill="#91c3de"/><rect x="620" y="326" width="10" height="11" fill="#4292c6"/><rect x="630" y="326" width="11" height="11" fill="#6baed6"/>
<rect x="449" y="337" width="10" height="11" fill="#c6dbef"/><rect x="459" y="337" width="11" height="11" fill="#f4f9fe"/><rect x="470" y="337" width="11" height="11" fill="#b2d2e8"/><rect x="481" y="337" width="10" height="11" fill="#f4f9fe"/><rect x="491" y="337" width="11" height="11" fill="#b2d2e8"/><rect x="502" y="337" width="11" height="11" fill="#b6d4e9"/><rect x="513" y="337" width="10" height="11" fill="#b2d2e8"/><rect x="523" y="337" width="11" height="11" fill="#c8ddf0"/><rect x="534" y="337" width="11" height="11" fill="#9ecae1"/><rect x="545" y="337" width="10" height="11" fill="#b2d2e8"/><rect x="555" y="337" width="11" height="11" fill="#d2e3f3"/><rect x="566" y="337" width="32" height="11" fill="#f4f9fe"/><rect x="598" y="337" width="11" height="11" fill="#e8f1fa"/><rect x="609" y="337" width="11" height="11" fill="#deebf7"/><rect x="620" y="337" width="10" height="11" fill="#a8cee4"/><rect x="630" y="337" width="11" height="11" fill="#e4eff9"/>
<rect x="459" y="348" width="11" height="10" fill="#eaf3fb"/><rect x="481" y="348" width="10" height="10" fill="#e4eff9"/><rect x="491" y="348" width="22" height="10" fill="#f4f9fe"/><rect x="513" y="348" width="10" height="10" fill="#f3f9fe"/><rect x="523" y="348" width="11" height="10" fill="#f4f9fe"/><rect x="534" y="348" width="11" height="10" fill="#f3f9fe"/><rect x="545" y="348" width="21" height="10" fill="#f4f9fe"/><rect x="566" y="348" width="11" height="10" fill="#d2e3f3"/><rect x="577" y="348" width="11" height="10" fill="#d8e7f5"/><rect x="588" y="348" width="10" height="10" fill="#dae9f6"/><rect x="598" y="348" width="11" height="10" fill="#ccdff1"/><rect x="609" y="348" width="11" height="10" fill="#bcd7ec"/><rect x="620" y="348" width="10" height="10" fill="#84bcdc"/><rect x="630" y="348" width="11" height="10" fill="#c6dbef"/>
<rect x="470" y="358" width="11" height="11" fill="#e0edf8"/><rect x="481" y="358" width="10" height="11" fill="#f4f9fe"/><rect x="491" y="358" width="11" height="11" fill="#e2edf8"/><rect x="502" y="358" width="11" height="11" fill="#ccdff1"/><rect x="513" y="358" width="10" height="11" fill="#e4eff9"/><rect x="523" y="358" width="11" height="11" fill="#e0edf8"/><rect x="534" y="358" width="11" height="11" fill="#dce9f6"/><rect x="545" y="358" width="10" height="11" fill="#d2e3f3"/><rect x="555" y="358" width="11" height="11" fill="#e4eff9"/><rect x="566" y="358" width="11" height="11" fill="#c0d8ed"/><rect x="577" y="358" width="11" height="11" fill="#f3f9fe"/><rect x="588" y="358" width="10" height="11" fill="#f4f9fe"/><rect x="598" y="358" width="11" height="11" fill="#f3f9fe"/><rect x="609" y="358" width="11" height="11" fill="#e4eff9"/><rect x="620" y="358" width="10" height="11" fill="#c6dbef"/><rect x="630" y="358" width="11" height="11" fill="#f3f9fe"/>
<rect x="481" y="369" width="10" height="11" fill="#deebf7"/><rect x="491" y="369" width="54" height="11" fill="#f6faff"/><rect x="545" y="369" width="10" height="11" fill="#f4f9fe"/><rect x="555" y="369" width="11" height="11" fill="#f3f9fe"/><rect x="566" y="369" width="11" height="11" fill="#c0d8ed"/><rect x="577" y="369" width="11" height="11" fill="#deebf7"/><rect x="588" y="369" width="10" height="11" fill="#e8f1fa"/><rect x="598" y="369" width="11" height="11" fill="#b6d4e9"/><rect x="609" y="369" width="11" height="11" fill="#a8cee4"/><rect x="620" y="369" width="10" height="11" fill="#3a8ac2"/><rect x="630" y="369" width="11" height="11" fill="#b2d2e8"/>
<rect x="491" y="380" width="11" height="10" fill="#d8e7f5"/><rect x="502" y="380" width="11" height="10" fill="#d0e1f2"/><rect x="513" y="380" width="10" height="10" fill="#d6e5f4"/><rect x="523" y="380" width="22" height="10" fill="#d4e5f4"/><rect x="545" y="380" width="10" height="10" fill="#d2e3f3"/><rect x="555" y="380" width="11" height="10" fill="#e8f1fa"/><rect x="566" y="380" width="11" height="10" fill="#eaf3fb"/><rect x="577" y="380" width="11" height="10" fill="#d4e5f4"/><rect x="588" y="380" width="21" height="10" fill="#f4f9fe"/><rect x="609" y="380" width="11" height="10" fill="#e4eff9"/><rect x="620" y="380" width="10" height="10" fill="#caddf0"/><rect x="630" y="380" width="11" height="10" fill="#f4f9fe"/>
<rect x="502" y="390" width="11" height="11" fill="#f3f9fe"/><rect x="513" y="390" width="10" height="11" fill="#f4f9fe"/><rect x="523" y="390" width="11" height="11" fill="#f3f9fe"/><rect x="534" y="390" width="21" height="11" fill="#f6faff"/><rect x="555" y="390" width="11" height="11" fill="#f4f9fe"/><rect x="566" y="390" width="11" height="11" fill="#c6dbef"/><rect x="577" y="390" width="11" height="11" fill="#d8e7f5"/><rect x="588" y="390" width="10" height="11" fill="#e2edf8"/><rect x="598" y="390" width="11" height="11" fill="#b6d4e9"/><rect x="609" y="390" width="11" height="11" fill="#a2cce2"/><rect x="620" y="390" width="10" height="11" fill="#2171b5"/><rect x="630" y="390" width="11" height="11" fill="#a8cee4"/>
<rect x="513" y="401" width="10" height="11" fill="#f3f9fe"/><rect x="523" y="401" width="11" height="11" fill="#f6faff"/><rect x="534" y="401" width="11" height="11" fill="#f2f8fd"/><rect x="545" y="401" width="10" height="11" fill="#f6faff"/><rect x="555" y="401" width="11" height="11" fill="#f4f9fe"/><rect x="566" y="401" width="11" height="11" fill="#a2cce2"/><rect x="577" y="401" width="11" height="11" fill="#dae9f6"/><rect x="588" y="401" width="10" height="11" fill="#d8e7f5"/><rect x="598" y="401" width="11" height="11" fill="#b6d4e9"/><rect x="609" y="401" width="11" height="11" fill="#acd0e6"/><rect x="620" y="401" width="10" height="11" fill="#56a0ce"/><rect x="630" y="401" width="11" height="11" fill="#b2d2e8"/>
<rect x="523" y="412" width="11" height="10" fill="#f3f9fe"/><rect x="545" y="412" width="10" height="10" fill="#f6faff"/><rect x="555" y="412" width="11" height="10" fill="#f4f9fe"/><rect x="566" y="412" width="11" height="10" fill="#c8ddf0"/><rect x="577" y="412" width="11" height="10" fill="#d2e3f3"/><rect x="588" y="412" width="10" height="10" fill="#d4e5f4"/><rect x="598" y="412" width="11" height="10" fill="#c8ddf0"/><rect x="609" y="412" width="11" height="10" fill="#acd0e6"/><rect x="620" y="412" width="10" height="10" fill="#3a8ac2"/><rect x="630" y="412" width="11" height="10" fill="#c6dbef"/>
<rect x="534" y="422" width="11" height="11" fill="#f4f9fe"/><rect x="545" y="422" width="10" height="11" fill="#f6faff"/><rect x="555" y="422" width="11" height="11" fill="#f4f9fe"/><rect x="566" y="422" width="22" height="11" fill="#c6dbef"/><rect x="588" y="422" width="10" height="11" fill="#ccdff1"/><rect x="598" y="422" width="11" height="11" fill="#d2e3f3"/><rect x="609" y="422" width="11" height="11" fill="#bcd7ec"/><rect x="620" y="422" width="10" height="11" fill="#a8cee4"/><rect x="630" y="422" width="11" height="11" fill="#d8e7f5"/>
<rect x="545" y="433" width="10" height="11" fill="#f6faff"/><rect x="555" y="433" width="11" height="11" fill="#f4f9fe"/><rect x="566" y="433" width="11" height="11" fill="#b6d4e9"/><rect x="577" y="433" width="11" height="11" fill="#d4e5f4"/><rect x="588" y="433" width="10" height="11" fill="#eaf3fb"/><rect x="598" y="433" width="11" height="11" fill="#acd0e6"/><rect x="609" y="433" width="11" height="11" fill="#84bcdc"/><rect x="620" y="433" width="10" height="11" fill="#084990"/><rect x="630" y="433" width="11" height="11" fill="#91c3de"/>
<rect x="555" y="444" width="11" height="11" fill="#f4f9fe"/><rect x="566" y="444" width="11" height="11" fill="#a8cee4"/><rect x="577" y="444" width="11" height="11" fill="#d4e5f4"/><rect x="588" y="444" width="10" height="11" fill="#e4eff9"/><rect x="598" y="444" width="11" height="11" fill="#acd0e6"/><rect x="609" y="444" width="11" height="11" fill="#9ecae1"/><rect x="620" y="444" width="10" height="11" fill="#2171b5"/><rect x="630" y="444" width="11" height="11" fill="#9ecae1"/>
<rect x="566" y="455" width="11" height="10" fill="#d4e5f4"/><rect x="577" y="455" width="11" height="10" fill="#e4eff9"/><rect x="588" y="455" width="10" height="10" fill="#f3f9fe"/><rect x="598" y="455" width="11" height="10" fill="#d2e3f3"/><rect x="609" y="455" width="11" height="10" fill="#ccdff1"/><rect x="620" y="455" width="10" height="10" fill="#b2d2e8"/><rect x="630" y="455" width="11" height="10" fill="#d2e3f3"/>
<rect x="577" y="465" width="11" height="11" fill="#eef5fc"/><rect x="588" y="465" width="10" height="11" fill="#d4e5f4"/><rect x="598" y="465" width="11" height="11" fill="#b6d4e9"/><rect x="609" y="465" width="11" height="11" fill="#b2d2e8"/><rect x="620" y="465" width="10" height="11" fill="#2171b5"/><rect x="630" y="465" width="11" height="11" fill="#78b5d9"/>
<rect x="588" y="476" width="10" height="11" fill="#d2e3f3"/><rect x="598" y="476" width="11" height="11" fill="#cee1f2"/><rect x="609" y="476" width="11" height="11" fill="#a2cce2"/><rect x="620" y="476" width="10" height="11" fill="#acd0e6"/><rect x="630" y="476" width="11" height="11" fill="#d2e3f3"/>
<rect x="598" y="487" width="11" height="10" fill="#deebf7"/><rect x="609" y="487" width="11" height="10" fill="#dce9f6"/><rect x="620" y="487" width="10" height="10" fill="#d8e7f5"/><rect x="630" y="487" width="11" height="10" fill="#dce9f6"/>
<rect x="609" y="497" width="32" height="11" fill="#f4f9fe"/>



</g>
<g shape-rendering="crispEdges" fill="#000" fill-opacity="0.85">
<rect x="165" y="60" width="1" height="7"/><rect x="165" y="534" width="1" height="7"/><rect x="160" y="65" width="7" height="1"/><rect x="634" y="65" width="7" height="1"/><rect x="176" y="60" width="1" height="7"/><rect x="176" y="534" width="1" height="7"/><rect x="160" y="76" width="7" height="1"/><rect x="634" y="76" width="7" height="1"/><rect x="187" y="60" width="1" height="7"/><rect x="187" y="534" width="1" height="7"/><rect x="160" y="87" width="7" height="1"/><rect x="634" y="87" width="7" height="1"/><rect x="197" y="60" width="1" height="7"/><rect x="197" y="534" width="1" height="7"/><rect x="160" y="97" width="7" height="1"/><rect x="634" y="97" width="7" height="1"/><rect x="208" y="60" width="1" height="7"/><rect x="208" y="534" width="1" height="7"/><rect x="160" y="108" width="7" height="1"/><rect x="634" y="108" width="7" height="1"/><rect x="219" y="60" width="1" height="7"/><rect x="219" y="534" width="1" height="7"/><rect x="160" y="119" width="7" height="1"/><rect x="634" y="119" width="7" height="1"/><rect x="229" y="60" width="1" height="7"/><rect x="229" y="534" width="1" height="7"/><rect x="160" y="129" width="7" height="1"/><rect x="634" y="129" width="7" height="1"/><rect x="240" y="60" width="1" height="7"/><rect x="240" y="534" width="1" height="7"/><rect x="160" y="140" width="7" height="1"/><rect x="634" y="140" width="7" height="1"/><rect x="251" y="60" width="1" height="7"/><rect x="251" y="534" width="1" height="7"/><rect x="160" y="151" width="7" height="1"/><rect x="634" y="151" width="7" height="1"/><rect x="261" y="60" width="1" height="7"/><rect x="261" y="534" width="1" height="7"/><rect x="160" y="161" width="7" height="1"/><rect x="634" y="161" width="7" height="1"/><rect x="272" y="60" width="1" height="7"/><rect x="272" y="534" width="1" height="7"/><rect x="160" y="172" width="7" height="1"/><rect x="634" y="172" width="7" height="1"/><rect x="283" y="60" width="1" height="7"/><rect x="283" y="534" width="1" height="7"/><rect x="160" y="183" width="7" height="1"/><rect x="634" y="183" width="7" height="1"/><rect x="293" y="60" width="1" height="7"/><rect x="293" y="534" width="1" height="7"/><rect x="160" y="193" width="7" height="1"/><rect x="634" y="193" width="7" height="1"/><rect x="304" y="60" width="1" height="7"/><rect x="304" y="534" width="1" height="7"/><rect x="160" y="204" width="7" height="1"/><rect x="634" y="204" width="7" height="1"/><rect x="315" y="60" width="1" height="7"/><rect x="315" y="534" width="1" height="7"/><rect x="160" y="215" width="7" height="1"/><rect x="634" y="215" width="7" height="1"/><rect x="325" y="60" width="1" height="7"/><rect x="325" y="534" width="1" height="7"/><rect x="160" y="225" width="7" height="1"/><rect x="634" y="225" width="7" height="1"/><rect x="336" y="60" width="1" height="7"/><rect x="336" y="534" width="1" height="7"/><rect x="160" y="236" width="7" height="1"/><rect x="634" y="236" width="7" height="1"/><rect x="347" y="60" width="1" height="7"/><rect x="347" y="534" width="1" height="7"/><rect x="160" y="247" width="7" height="1"/><rect x="634" y="247" width="7" height="1"/><rect x="357" y="60" width="1" height="7"/><rect x="357" y="534" width="1" height="7"/><rect x="160" y="257" width="7" height="1"/><rect x="634" y="257" width="7" height="1"/><rect x="368" y="60" width="1" height="7"/><rect x="368" y="534" width="1" height="7"/><rect x="160" y="268" width="7" height="1"/><rect x="634" y="268" width="7" height="1"/><rect x="379" y="60" width="1" height="7"/><rect x="379" y="534" width="1" height="7"/><rect x="160" y="279" width="7" height="1"/><rect x="634" y="279" width="7" height="1"/><rect x="389" y="60" width="1" height="7"/><rect x="389" y="534" width="1" height="7"/><rect x="160" y="289" width="7" height="1"/><rect x="634" y="289" width="7" height="1"/><rect x="400" y="60" width="1" height="7"/><rect x="400" y="534" width="1" height="7"/><rect x="160" y="300" width="7" height="1"/><rect x="634" y="300" width="7" height="1"/><rect x="411" y="60" width="1" height="7"/><rect x="411" y="534" width="1" height="7"/><rect x="160" y="311" width="7" height="1"/><rect x="634" y="311" width="7" height="1"/><rect x="421" y="60" width="1" height="7"/><rect x="421" y="534" width="1" height="7"/><rect x="160" y="321" width="7" height="1"/><rect x="634" y="321" width="7" height="1"/><rect x="432" y="60" width="1" height="7"/><rect x="432" y="534" width="1" height="7"/><rect x="160" y="332" width="7" height="1"/><rect x="634" y="332" width="7" height="1"/><rect x="443" y="60" width="1" height="7"/><rect x="443" y="534" width="1" height="7"/><rect x="160" y="343" width="7" height="1"/><rect x="634" y="343" width="7" height="1"/><rect x="453" y="60" width="1" height="7"/><rect x="453" y="534" width="1" height="7"/><rect x="160" y="353" width="7" height="1"/><rect x="634" y="353" width="7" height="1"/><rect x="464" y="60" width="1" height="7"/><rect x="464" y="534" width="1" height="7"/><rect x="160" y="364" width="7" height="1"/><rect x="634" y="364" width="7" height="1"/><rect x="475" y="60" width="1" height="7"/><rect x="475" y="534" width="1" height="7"/><rect x="160" y="375" width="7" height="1"/><rect x="634" y="375" width="7" height="1"/><rect x="485" y="60" width="1" height="7"/><rect x="485" y="534" width="1" height="7"/><rect x="160" y="385" width="7" height="1"/><rect x="634" y="385" width="7" height="1"/><rect x="496" y="60" width="1" height="7"/><rect x="496" y="534" width="1" height="7"/><rect x="160" y="396" width="7" height="1"/><rect x="634" y="396" width="7" height="1"/><rect x="507" y="60" width="1" height="7"/><rect x="507" y="534" width="1" height="7"/><rect x="160" y="407" width="7" height="1"/><rect x="634" y="407" width="7" height="1"/><rect x="517" y="60" width="1" height="7"/><rect x="517" y="534" width="1" height="7"/><rect x="160" y="417" width="7" height="1"/><rect x="634" y="417" width="7" height="1"/><rect x="528" y="60" width="1" height="7"/><rect x="528" y="534" width="1" height="7"/><rect x="160" y="428" width="7" height="1"/><rect x="634" y="428" width="7" height="1"/><rect x="539" y="60" width="1" height="7"/><rect x="539" y="534" width="1" height="7"/><rect x="160" y="439" width="7" height="1"/><rect x="634" y="439" width="7" height="1"/><rect x="549" y="60" width="1" height="7"/><rect x="549" y="534" width="1" height="7"/><rect x="160" y="449" width="7" height="1"/><rect x="634" y="449" width="7" height="1"/><rect x="560" y="60" width="1" height="7"/><rect x="560" y="534" width="1" height="7"/><rect x="160" y="460" width="7" height="1"/><rect x="634" y="460" width="7" height="1"/><rect x="571" y="60" width="1" height="7"/><rect x="571" y="534" width="1" height="7"/><rect x="160" y="471" width="7" height="1"/><rect x="634" y="471" width="7" height="1"/><rect x="581" y="60" width="1" height="7"/><rect x="581" y="534" width="1" height="7"/><rect x="160" y="481" width="7" height="1"/><rect x="634" y="481" width="7" height="1"/><rect x="592" y="60" width="1" height="7"/><rect x="592" y="534" width="1" height="7"/><rect x="160" y="492" width="7" height="1"/><rect x="634" y="492" width="7" height="1"/><rect x="603" y="60" width="1" height="7"/><rect x="603" y="534" width="1" height="7"/><rect x="160" y="503" width="7" height="1"/><rect x="634" y="503" width="7" height="1"/><rect x="613" y="60" width="1" height="7"/><rect x="613" y="534" width="1" height="7"/><rect x="160" y="513" width="7" height="1"/><rect x="634" y="513" width="7" height="1"/><rect x="624" y="60" width="1" height="7"/><rect x="624" y="534" width="1" height="7"/><rect x="160" y="524" width="7" height="1"/><rect x="634" y="524" width="7" height="1"/><rect x="635" y="60" width="1" height="7"/><rect x="635" y="534" width="1" height="7"/><rect x="160" y="535" width="7" height="1"/><rect x="634" y="535" width="7" height="1"/>
</g>
<rect x="160.6" y="60.45" width="480.05" height="480.05" fill="none" stroke="#000" stroke-width="1.35"/>
<text x="166.08" y="54.1" text-anchor="middle" letter-spacing="-0.6">C1'</text><text x="155.40" y="71.43" text-anchor="end" letter-spacing="-0.6">C1'</text>
<text x="219.42" y="54.1" text-anchor="middle" letter-spacing="-0.6">C4'</text><text x="155.40" y="124.77" text-anchor="end" letter-spacing="-0.6">C4'</text>
<text x="271.55" y="54.1" text-anchor="middle" letter-spacing="-0.6">N1</text><text x="154.70" y="178.10" text-anchor="end" letter-spacing="-0.6">N1</text>
<text x="326.08" y="54.1" text-anchor="middle" letter-spacing="-0.6">O2'</text><text x="155.40" y="231.43" text-anchor="end" letter-spacing="-0.6">O2'</text>
<text x="379.42" y="54.1" text-anchor="middle" letter-spacing="-0.6">OP1</text><text x="154.70" y="284.77" text-anchor="end" letter-spacing="-0.6">OP1</text>
<text x="432.75" y="54.1" text-anchor="middle" letter-spacing="-0.6">C2'</text><text x="155.40" y="338.10" text-anchor="end" letter-spacing="-0.6">C2'</text>
<text x="486.08" y="54.1" text-anchor="middle" letter-spacing="-0.6">C5'</text><text x="155.40" y="391.43" text-anchor="end" letter-spacing="-0.6">C5'</text>
<text x="538.22" y="54.1" text-anchor="middle" letter-spacing="-0.6">N6</text><text x="154.70" y="444.77" text-anchor="end" letter-spacing="-0.6">N6</text>
<text x="592.75" y="54.1" text-anchor="middle" letter-spacing="-0.6">O4'</text><text x="155.40" y="498.10" text-anchor="end" letter-spacing="-0.6">O4'</text>
<rect x="680.5" y="60.5" width="16" height="480" fill="url(#cb)" stroke="#000" stroke-width="1.1"/>
<text x="701.0" y="546.10" letter-spacing="-0.3">0.00</text><text x="701.0" y="490.48" letter-spacing="-0.3">0.15</text><text x="701.0" y="434.85" letter-spacing="-0.3">0.30</text><text x="701.0" y="379.23" letter-spacing="-0.3">0.45</text><text x="701.0" y="323.60" letter-spacing="-0.3">0.60</text><text x="701.0" y="267.98" letter-spacing="-0.3">0.75</text><text x="701.0" y="212.35" letter-spacing="-0.3">0.90</text><text x="701.0" y="156.73" letter-spacing="-0.3">1.05</text><text x="701.0" y="101.11" letter-spacing="-0.3">1.20</text>
<path d="M696 540.30h-5.5 M696 484.68h-5.5 M696 429.05h-5.5 M696 373.43h-5.5 M696 317.80h-5.5 M696 262.18h-5.5 M696 206.55h-5.5 M696 150.93h-5.5 M696 95.31h-5.5" stroke="#000" stroke-width="0.8" fill="none"/>
</svg>
</body></html>
